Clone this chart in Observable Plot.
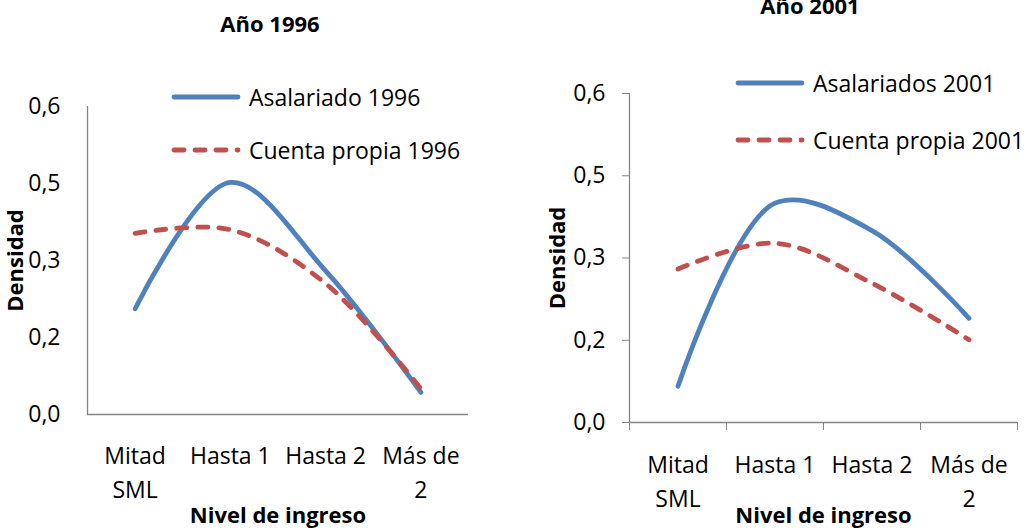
<!DOCTYPE html>
<html><head><meta charset="utf-8">
<script src="https://cdn.jsdelivr.net/npm/d3@7"></script>
<script src="https://cdn.jsdelivr.net/npm/@observablehq/plot@0.6"></script>
<style>
html,body{margin:0;padding:0;background:#fff;}
body{width:1027px;height:532px;position:relative;overflow:hidden;font-family:"Open Sans",sans-serif;color:#000;}
.panel{position:absolute;top:0;}
.title{position:absolute;font-weight:bold;font-size:22px;line-height:22px;text-align:center;width:240px;white-space:nowrap;}
.leg{position:absolute;height:30px;display:flex;align-items:center;font-size:23px;white-space:nowrap;}
.leg svg{margin-right:8px;}
svg g[aria-label="y-axis label"], svg g[aria-label="x-axis label"]{font-weight:bold;font-size:22px;}
</style></head><body>
<div id="p1" class="panel" style="left:0px"></div>
<div id="p2" class="panel" style="left:513px"></div>
<div class="title" style="left:150px;top:12px">Año 1996</div>
<div class="title" style="left:690px;top:-6px">Año 2001</div>
<div id="legends"></div>
<script>
const categories = ["Mitad\nSML", "Hasta 1", "Hasta 2", "Más de\n2"];
const yTicks = [0, 0.15, 0.3, 0.45, 0.6];
const yTickLabels = ["0,0", "0,2", "0,3", "0,5", "0,6"];
const asalariado1996 = [0.206, 0.452, 0.28, 0.043];
const cuentaPropia1996 = [0.353, 0.36, 0.255, 0.05];
const asalariados2001 = [0.066, 0.40, 0.35, 0.19];
const cuentaPropia2001 = [0.28, 0.327, 0.254, 0.151];
const seriesNames1996 = ["Asalariado 1996", "Cuenta propia 1996"];
const seriesNames2001 = ["Asalariados 2001", "Cuenta propia 2001"];
const blue = "#4F81BD", red = "#C0504D", axisGray = "#868686";
const dash = "10,11";

function makePanel(o) {
  const a = categories.map((c, i) => ({i, v: o.asal[i]}));
  const c = categories.map((cat, i) => ({i, v: o.cuenta[i]}));
  const marks = [
    Plot.ruleY([0], {stroke: axisGray, strokeWidth: 1.3}),
    Plot.ruleX([-0.5], {stroke: axisGray, strokeWidth: 1.3}),
    Plot.axisY({ticks: yTicks, tickFormat: d => yTickLabels[yTicks.indexOf(d)], tickSize: o.yTickSize, tickPadding: o.yTickPadding, stroke: axisGray,
      label: "Densidad", labelAnchor: "center", labelOffset: o.yLabelOffset, labelArrow: "none"}),
    Plot.axisX({ticks: [0, 1, 2, 3], tickFormat: i => categories[i], tickSize: 0, tickPadding: o.xTickPadding, lineHeight: 1.45,
      label: "Nivel de ingreso", labelAnchor: "center", labelOffset: o.xLabelOffset, labelArrow: "none"}),
    Plot.line(a, {x: "i", y: "v", curve: "catmull-rom", stroke: blue, strokeWidth: 4.8, strokeLinecap: "round"}),
    Plot.line(c, {x: "i", y: "v", curve: "catmull-rom", stroke: red, strokeWidth: 4.8, strokeLinecap: "round", strokeDasharray: dash})
  ];
  if (o.boundaryTicks) {
    marks.splice(2, 0, Plot.axisX({ticks: [-0.5, 0.5, 1.5, 2.5, 3.5], tickFormat: () => "", tickSize: 8, stroke: axisGray, label: null}));
  }
  return Plot.plot({
    width: o.width, height: 532,
    marginLeft: o.marginLeft, marginRight: o.marginRight, marginTop: o.marginTop, marginBottom: o.marginBottom,
    x: {type: "linear", domain: [-0.5, 3.5]},
    y: {domain: [0, 0.6]},
    style: {fontFamily: "Open Sans", fontSize: "23px", color: "#000", background: "transparent", overflow: "visible"},
    marks
  });
}

document.getElementById("p1").append(makePanel({
  asal: asalariado1996, cuenta: cuentaPropia1996,
  width: 513, marginLeft: 87, marginRight: 45, marginTop: 106, marginBottom: 118,
  yTickSize: 0, yTickPadding: 27, xTickPadding: 26, yLabelOffset: 80, xLabelOffset: 108, boundaryTicks: false
}));
document.getElementById("p2").append(makePanel({
  asal: asalariados2001, cuenta: cuentaPropia2001,
  width: 514, marginLeft: 116, marginRight: 10, marginTop: 93, marginBottom: 110,
  yTickSize: 7, yTickPadding: 17, xTickPadding: 27, yLabelOffset: 80, xLabelOffset: 100, boundaryTicks: true
}));

function legendItem(left, cy, color, dashed, text) {
  const d = document.createElement("div");
  d.className = "leg";
  d.style.left = left + "px";
  d.style.top = (cy - 15) + "px";
  d.innerHTML = `<svg width="70" height="10"><line x1="3" y1="5" x2="67" y2="5" stroke="${color}" stroke-width="4.8" stroke-linecap="round" ${dashed ? `stroke-dasharray="${dash}"` : ""}/></svg><span>${text}</span>`;
  document.getElementById("legends").append(d);
}
legendItem(171, 97, blue, false, seriesNames1996[0]);
legendItem(171, 150, red, true, seriesNames1996[1]);
legendItem(735, 83, blue, false, seriesNames2001[0]);
legendItem(735, 140, red, true, seriesNames2001[1]);
</script>
</body></html>
